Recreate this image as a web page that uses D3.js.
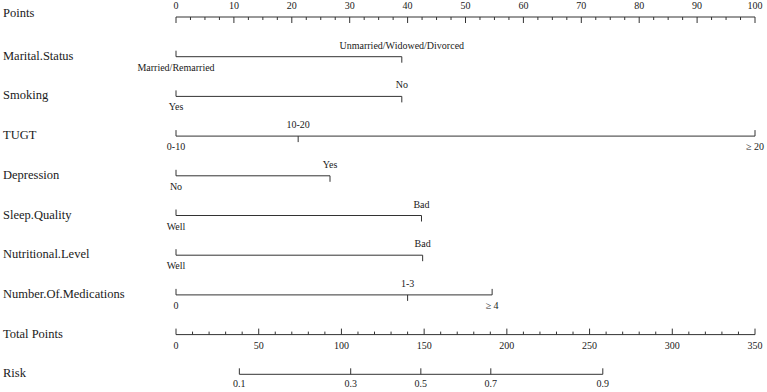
<!DOCTYPE html>
<html lang="en">
<head>
<meta charset="UTF-8">
<title>Nomogram</title>
<script src="https://d3js.org/d3.v7.min.js"></script>
<style>
  body { margin: 0; background: #fff; }
  svg text { font-family: "Liberation Serif", "Times New Roman", Times, serif; fill: #1a1a1a; }
  .ln { stroke: #333; stroke-width: 1; fill: none; }
</style>
</head>
<body>
<script>
// predictors and their levels
var variables = ["Marital.Status", "Smoking", "TUGT", "Depression",
  "Sleep.Quality", "Nutritional.Level", "Number.Of.Medications"];
var levels = [
  ["Married/Remarried", "Unmarried/Widowed/Divorced"],
  ["Yes", "No"],
  ["0-10", "10-20", "\u2265 20"],
  ["No", "Yes"],
  ["Well", "Bad"],
  ["Well", "Bad"],
  ["0", "1-3", "\u2265 4"]
];
// points for each level (0-100 scale)
var levelPoints = [
  [0, 39],
  [0, 39],
  [0, 21.1, 100],
  [0, 26.6],
  [0, 42.4],
  [0, 42.6],
  [0, 40, 54.6]
];

var totalMax = 350;
var riskLabels = ["0.1", "0.3", "0.5", "0.7", "0.9"];
var riskTotal = [38.3, 105.6, 148, 190.3, 258];

var W = 767, H = 392;
var x0 = 176, x1 = 755;
var rowTop = 17, rowStep = 39.7;

var svg = d3.select("body").append("svg")
  .attr("width", W).attr("height", H)
  .attr("font-family", "Liberation Serif, Times New Roman, serif");

var xp = d3.scaleLinear().domain([0, 100]).range([x0, x1]);
var xt = d3.scaleLinear().domain([0, totalMax]).range([x0, x1]);

function rowY(i) { return rowTop + i * rowStep; }

// row labels
var rowNames = ["Points"].concat(variables, ["Total Points", "Risk"]);
svg.selectAll("text.rowlab")
  .data(rowNames)
  .enter().append("text")
  .attr("class", "rowlab")
  .attr("x", 3)
  .attr("y", function(d, i) { return i === 0 ? rowY(i) : rowY(i) + 3; })
  .style("font-size", "12.5px")
  .text(function(d) { return d; });

// Points axis: ticks down, labels above
var pY = rowY(0);
svg.append("line").attr("class", "ln")
  .attr("x1", xp(0)).attr("x2", xp(100)).attr("y1", pY).attr("y2", pY);
svg.selectAll("line.pminor")
  .data(d3.range(0, 100.01, 2.5))
  .enter().append("line").attr("class", "ln pminor")
  .attr("x1", function(d) { return xp(d); })
  .attr("x2", function(d) { return xp(d); })
  .attr("y1", pY)
  .attr("y2", function(d) { return d % 10 === 0 ? pY + 6 : pY + 3; });
svg.selectAll("text.plab")
  .data(xp.ticks(10))
  .enter().append("text").attr("class", "plab")
  .attr("x", function(d) { return xp(d); })
  .attr("y", pY - 8)
  .attr("text-anchor", "middle")
  .style("font-size", "10px")
  .text(function(d) { return d; });

// predictor rows
variables.forEach(function(v, i) {
  var y = rowY(i + 1);
  var pts = levelPoints[i];
  var g = svg.append("g");
  g.append("line").attr("class", "ln")
    .attr("x1", xp(d3.min(pts))).attr("x2", xp(d3.max(pts)))
    .attr("y1", y).attr("y2", y);
  var lv = g.selectAll("g.lv")
    .data(levels[i].map(function(name, j) { return {name: name, p: pts[j], up: j % 2 === 1}; }))
    .enter().append("g").attr("class", "lv");
  lv.append("line").attr("class", "ln")
    .attr("x1", function(d) { return xp(d.p); })
    .attr("x2", function(d) { return xp(d.p); })
    .attr("y1", y)
    .attr("y2", function(d) { return d.up ? y + 6 : y - 6; });
  lv.append("text")
    .attr("x", function(d) { return xp(d.p); })
    .attr("y", function(d) { return d.up ? y - 8 : y + 14; })
    .attr("text-anchor", "middle")
    .style("font-size", "10px")
    .text(function(d) { return d.name; });
});

// Total Points axis: ticks up, labels below
var tY = rowY(8);
svg.append("line").attr("class", "ln")
  .attr("x1", xt(0)).attr("x2", xt(totalMax)).attr("y1", tY).attr("y2", tY);
svg.selectAll("line.tminor")
  .data(d3.range(0, totalMax + 0.01, 10))
  .enter().append("line").attr("class", "ln tminor")
  .attr("x1", function(d) { return xt(d); })
  .attr("x2", function(d) { return xt(d); })
  .attr("y1", tY)
  .attr("y2", function(d) { return d % 50 === 0 ? tY - 6 : tY - 3; });
svg.selectAll("text.tlab")
  .data(d3.range(0, totalMax + 0.01, 50))
  .enter().append("text").attr("class", "tlab")
  .attr("x", function(d) { return xt(d); })
  .attr("y", tY + 14)
  .attr("text-anchor", "middle")
  .style("font-size", "10px")
  .text(function(d) { return d; });

// Risk axis
var rY = rowY(9);
svg.append("line").attr("class", "ln")
  .attr("x1", xt(d3.min(riskTotal))).attr("x2", xt(d3.max(riskTotal)))
  .attr("y1", rY).attr("y2", rY);
svg.selectAll("line.rt")
  .data(riskTotal)
  .enter().append("line").attr("class", "ln rt")
  .attr("x1", function(d) { return xt(d); })
  .attr("x2", function(d) { return xt(d); })
  .attr("y1", rY).attr("y2", rY - 6);
svg.selectAll("text.rlab")
  .data(riskLabels)
  .enter().append("text").attr("class", "rlab")
  .attr("x", function(d, i) { return xt(riskTotal[i]); })
  .attr("y", rY + 13)
  .attr("text-anchor", "middle")
  .style("font-size", "10px")
  .text(function(d) { return d; });
</script>
</body>
</html>
